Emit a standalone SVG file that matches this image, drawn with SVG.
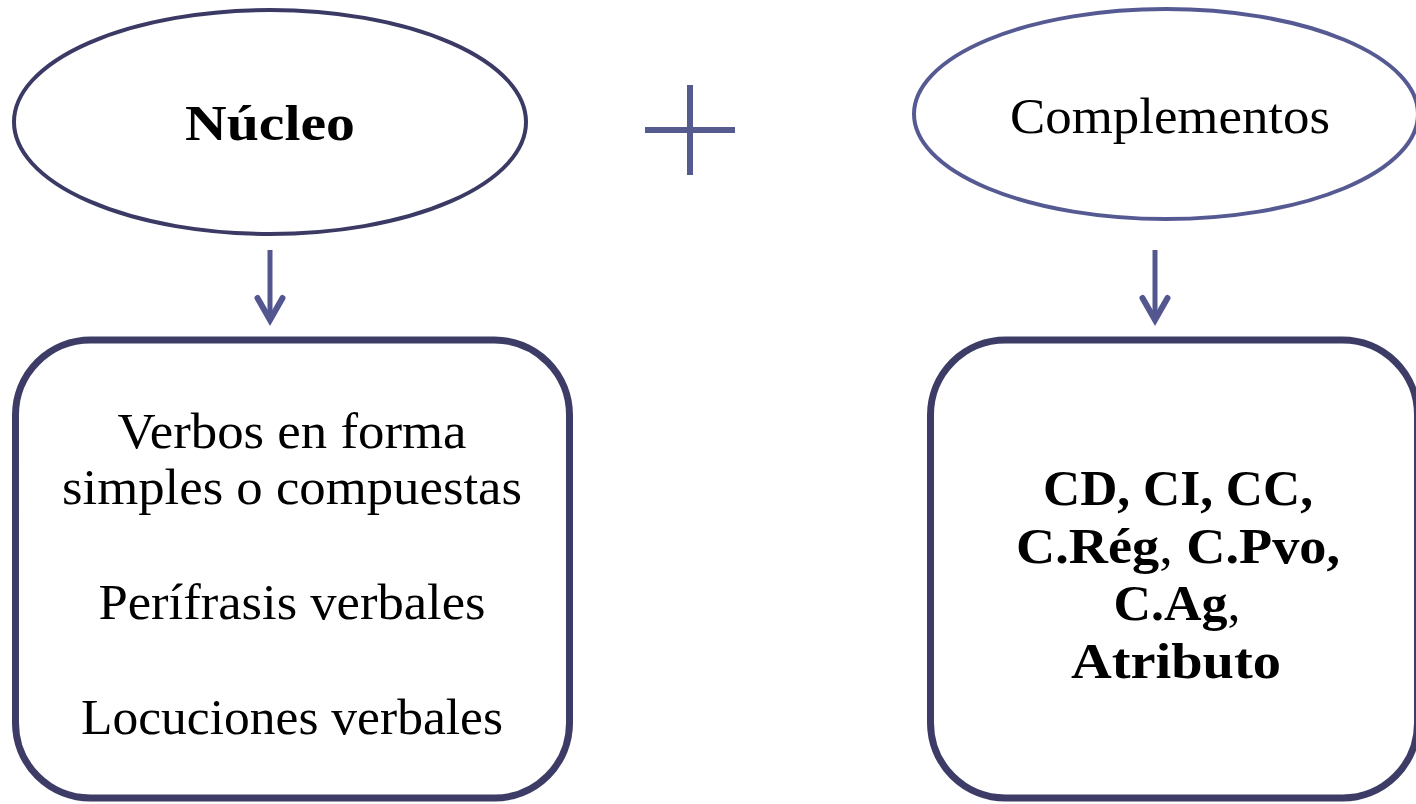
<svg xmlns="http://www.w3.org/2000/svg" width="1416" height="804" viewBox="0 0 1416 804">
  <style>
    .lbl { font-family: "Liberation Serif", "Times New Roman", serif; font-size: 51px; fill: #000; text-anchor: middle; }
    .b { font-weight: bold; }
    .n { font-weight: normal; }
    .ell1 { fill: #fff; stroke: #3b3a65; stroke-width: 4; }
    .ell2 { fill: #fff; stroke: #565a93; stroke-width: 4; }
    .box { fill: #fff; stroke: #3d3c66; stroke-width: 7; }
    .conn { stroke: #53568f; stroke-width: 5; fill: none; }
  </style>
  <defs>
    <marker id="head" viewBox="-28 -17 32 34" markerWidth="32" markerHeight="34" refX="0" refY="0" markerUnits="userSpaceOnUse" orient="auto" overflow="visible">
      <path d="M-22,-12.5 L0,0 L-22,12.5" fill="none" stroke="#53568f" stroke-width="6" stroke-linecap="round" stroke-linejoin="miter"/>
    </marker>
  </defs>
  <rect width="1416" height="804" fill="#fff"/>

  <g id="nucleo">
    <ellipse class="ell1" cx="270" cy="122" rx="256" ry="112"/>
    <text class="lbl b" x="270" y="140" textLength="170" lengthAdjust="spacingAndGlyphs">Núcleo</text>
  </g>

  <g id="plus">
    <line x1="690" y1="85" x2="690" y2="175" stroke="#555a8f" stroke-width="6"/>
    <line x1="645" y1="130" x2="735" y2="130" stroke="#555a8f" stroke-width="6"/>
  </g>

  <g id="complementos">
    <ellipse class="ell2" cx="1166" cy="114" rx="252" ry="105"/>
    <text class="lbl" x="1170" y="133" textLength="320" lengthAdjust="spacingAndGlyphs">Complementos</text>
  </g>

  <g id="connectors">
    <line class="conn" x1="270" y1="250" x2="270" y2="320" marker-end="url(#head)"/>
    <line class="conn" x1="1155" y1="250" x2="1155" y2="320" marker-end="url(#head)"/>
  </g>

  <g id="verbos">
    <rect class="box" x="15.5" y="340" width="554" height="458" rx="75" ry="75"/>
    <text class="lbl" x="292" y="448" textLength="349" lengthAdjust="spacingAndGlyphs">Verbos en forma</text>
    <text class="lbl" x="292" y="504" textLength="460" lengthAdjust="spacingAndGlyphs">simples o compuestas</text>
    <text class="lbl" x="292" y="619" textLength="387" lengthAdjust="spacingAndGlyphs">Perífrasis verbales</text>
    <text class="lbl" x="292" y="734" textLength="422" lengthAdjust="spacingAndGlyphs">Locuciones verbales</text>
  </g>

  <g id="tipos">
    <rect class="box" x="930.5" y="340" width="487" height="458" rx="75" ry="75"/>
    <text class="lbl b" x="1178" y="505" textLength="270" lengthAdjust="spacingAndGlyphs">CD, CI, CC,</text>
    <text class="lbl b" x="1178" y="563" textLength="324" lengthAdjust="spacingAndGlyphs">C.Rég<tspan class="n">,</tspan> C.Pvo,</text>
    <text class="lbl b" x="1177" y="620" textLength="127" lengthAdjust="spacingAndGlyphs">C.Ag<tspan class="n">,</tspan></text>
    <text class="lbl b" x="1176" y="678" textLength="210" lengthAdjust="spacingAndGlyphs">Atributo</text>
  </g>
</svg>
